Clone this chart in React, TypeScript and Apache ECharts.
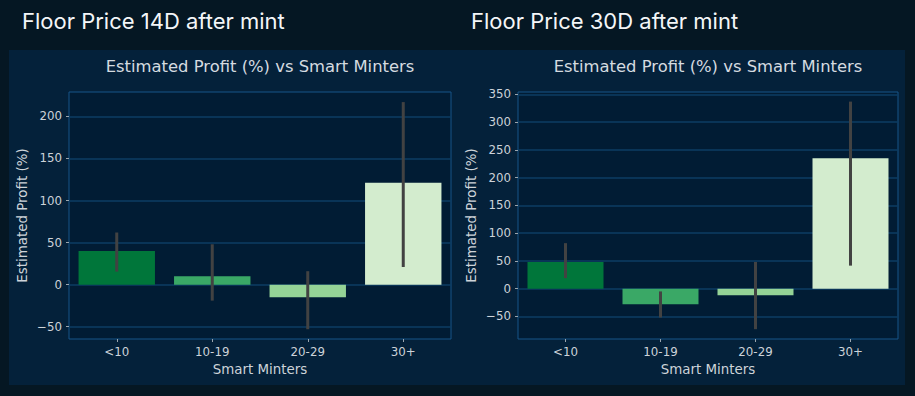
import React, { useEffect, useRef } from "react";
import * as echarts from "echarts";

const categories = ["<10", "10-19", "20-29", "30+"];
const barColors = ["#00763a", "#3aa866", "#95d396", "#d3ecce"];

const profit14 = [40, 10, -15, 121];
const err14Low = [15.5, -19, -53, 21];
const err14High = [62, 48, 16, 217];
const ticks14 = [-50, 0, 50, 100, 150, 200];
const range14 = [-64.6, 229];

const profit30 = [48, -28, -12, 235];
const err30Low = [19, -52, -73, 41.5];
const err30High = [82, -5, 48, 337];
const ticks30 = [-50, 0, 50, 100, 150, 200, 250, 300, 350];
const range30 = [-90.7, 354.3];

const mainTitles = ["Floor Price 14D after mint", "Floor Price 30D after mint"];
const subTitle = "Estimated Profit (%) vs Smart Minters";
const xName = "Smart Minters";
const yName = "Estimated Profit (%)";

const labelColor = "#cdd3d9";
const gridLineColor = "#0d3d63";
const frameColor = "#175488";

export default function App() {
  const ref = useRef<HTMLDivElement>(null);
  useEffect(() => {
    document.body.style.margin = "0";
    const chart = echarts.init(ref.current!, null, { renderer: "svg" });
    const grids = [
      { left: 69, top: 92, width: 382, height: 247 },
      { left: 518, top: 92, width: 380, height: 247 },
    ];
    const ticksArr = [ticks14, ticks30];
    const ranges = [range14, range30];
    const profits = [profit14, profit30];
    const lows = [err14Low, err30Low];
    const highs = [err14High, err30High];

    const option: any = {
      animation: false,
      backgroundColor: "#051723",
      graphic: [
        {
          type: "rect",
          shape: { x: 9, y: 50, width: 896, height: 335 },
          style: { fill: "#04213a" },
          z: -10,
        },
        {
          type: "text",
          x: 22,
          y: 32,
          style: {
            text: mainTitles[0],
            fill: "#f4f6f8",
            font: "400 22px Inter",
            textVerticalAlign: "bottom",
          },
        },
        {
          type: "text",
          x: 471,
          y: 32,
          style: {
            text: mainTitles[1],
            fill: "#f4f6f8",
            font: "400 22px Inter",
            textVerticalAlign: "bottom",
          },
        },
        {
          type: "text",
          x: 260,
          y: 66,
          style: {
            text: subTitle,
            fill: "#d5dbe0",
            font: "16.4px 'DejaVu Sans'",
            textAlign: "center",
            textVerticalAlign: "middle",
          },
        },
        {
          type: "text",
          x: 708,
          y: 66,
          style: {
            text: subTitle,
            fill: "#d5dbe0",
            font: "16.4px 'DejaVu Sans'",
            textAlign: "center",
            textVerticalAlign: "middle",
          },
        },
      ],
      grid: grids.map((g) => ({
        ...g,
        show: true,
        backgroundColor: "#011c34",
        borderColor: frameColor,
        borderWidth: 1,
        containLabel: false,
      })),
      xAxis: grids.map((_, i) => ({
        type: "category",
        gridIndex: i,
        data: categories,
        boundaryGap: true,
        name: xName,
        nameLocation: "middle",
        nameGap: 24,
        nameTextStyle: { color: labelColor, fontFamily: "DejaVu Sans", fontSize: 13.4 },
        axisLine: { show: false, onZero: false },
        axisTick: { show: true, alignWithLabel: true, length: 3, lineStyle: { color: "#9aa4ad" } },
        axisLabel: { color: labelColor, fontFamily: "DejaVu Sans", fontSize: 11.8, margin: 7 },
        splitLine: { show: false },
      })),
      yAxis: grids.map((_, i) => ({
        type: "value",
        gridIndex: i,
        min: ranges[i][0],
        max: ranges[i][1],
        name: yName,
        nameLocation: "middle",
        nameGap: 40,
        nameTextStyle: { color: labelColor, fontFamily: "DejaVu Sans", fontSize: 13.4 },
        axisLine: { show: false, onZero: false },
        axisTick: { show: true, length: 3, customValues: ticksArr[i], lineStyle: { color: "#9aa4ad" } },
        axisLabel: {
          color: labelColor,
          fontFamily: "DejaVu Sans",
          fontSize: 11.8,
          margin: 7,
          customValues: ticksArr[i],
          formatter: (v: number) => (v < 0 ? "\u2212" + Math.abs(v) : String(v)),
        },
        splitLine: { show: true, lineStyle: { color: gridLineColor, width: 1.5 } },
      })),
      series: [
        ...profits.map((p, i) => ({
          type: "bar",
          xAxisIndex: i,
          yAxisIndex: i,
          barWidth: "80%",
          data: p.map((v, j) => ({ value: v, itemStyle: { color: barColors[j] } })),
          z: 2,
        })),
        ...lows.map((lo, i) => ({
          type: "custom",
          xAxisIndex: i,
          yAxisIndex: i,
          encode: { x: 0, y: [1, 2] },
          data: lo.map((l, j) => [j, l, highs[i][j]]),
          renderItem: (params: any, api: any) => {
            const p1 = api.coord([api.value(0), api.value(1)]);
            const p2 = api.coord([api.value(0), api.value(2)]);
            return {
              type: "line",
              shape: { x1: p1[0], y1: p1[1], x2: p2[0], y2: p2[1] },
              style: { stroke: "#424242", lineWidth: 3 },
            };
          },
          z: 5,
        })),
      ],
    };
    chart.setOption(option);
    return () => chart.dispose();
  }, []);
  return <div ref={ref} style={{ width: 915, height: 396 }} />;
}
